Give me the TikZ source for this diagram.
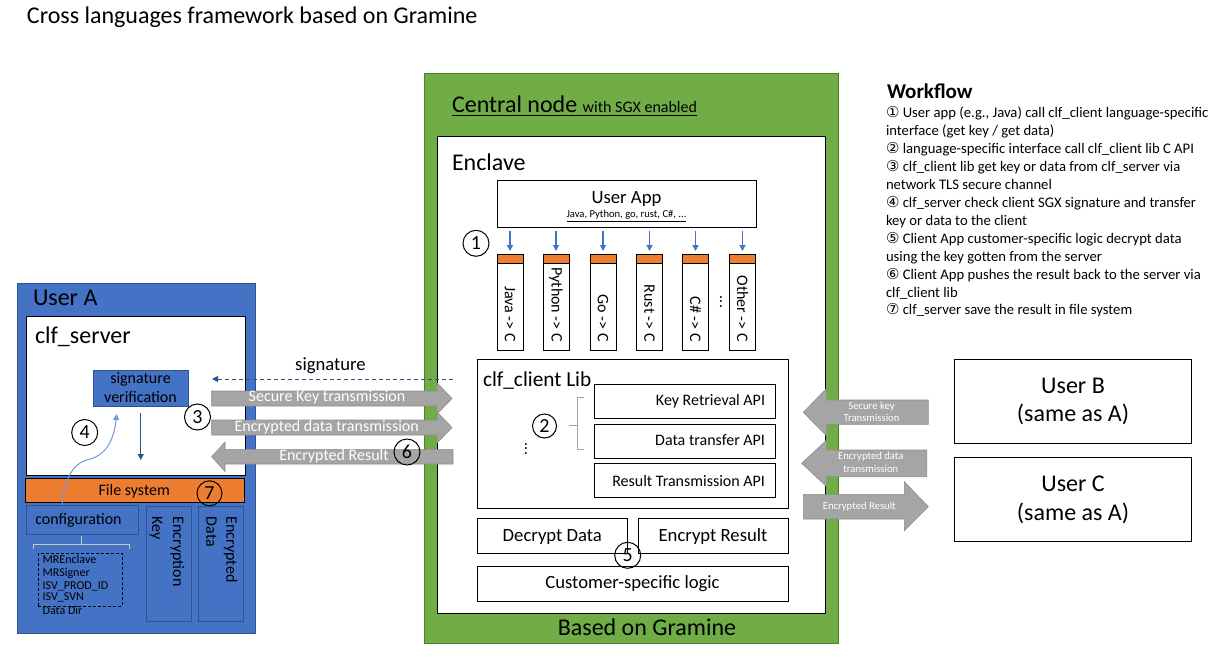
\documentclass[tikz,border=0pt]{standalone}
\usepackage{fontspec}
\setmainfont{Carlito}
\newfontfamily\dejavu{DejaVu Sans}
\usetikzlibrary{arrows.meta}
\definecolor{ggreen}{HTML}{70AD47}
\definecolor{ggreenD}{HTML}{507E32}
\definecolor{bblue}{HTML}{4472C4}
\definecolor{bblueD}{HTML}{2F528F}
\definecolor{oorange}{HTML}{ED7D31}
\definecolor{ggray}{HTML}{A5A5A5}
\definecolor{ggrayD}{HTML}{8C8C8C}
\definecolor{lblue}{HTML}{6A9BDC}
\definecolor{brgray}{HTML}{A5A5A5}
\definecolor{brlight}{HTML}{C8C8C8}
\newcommand\fsz[1]{\fontsize{#1}{#1}\selectfont}
\newcommand\cn{\dejavu\fontsize{15}{15}\selectfont}
\begin{document}
\begin{tikzpicture}[x=1pt,y=-1pt,
  every node/.style={inner sep=0pt,outer sep=0pt},
  box/.style={draw=black,line width=1pt,fill=white,anchor=north west},
  bbox/.style={draw=bblueD,line width=1pt,fill=bblue,anchor=north west},
  num/.style={circle,draw=black,line width=1pt,minimum size=26pt,font=\fsz{20}},
  blk/.style={fill=ggray,draw=ggrayD,line width=0.6pt},
  wt/.style={text=white,anchor=base},
  larr/.style={-{Triangle[length=6pt,width=6pt]},draw=bblue,line width=1.2pt},
  bt/.style={anchor=base},
]
\fill[white] (0,0) rectangle (1228,656);
\useasboundingbox (0,0) rectangle (1228,656);

% title
\node[anchor=base west,font=\fsz{24}] (title) at (27,23) {Cross languages framework based on Gramine};

% central node
\node[box,fill=ggreen,draw=ggreenD,minimum width=414,minimum height=570] (central) at (424,73) {};
\node[anchor=base west,font=\fsz{24}] (cn) at (452,112) {Central node {\fsz{16}with SGX enabled}};
\draw[line width=1pt] ([yshift=-3pt]cn.base west) -- ([yshift=-3pt]cn.base east);
\node[box,minimum width=388,minimum height=477] (enclave) at (437,136) {};
\node[anchor=base west,font=\fsz{24}] (enclt) at (452,170) {Enclave};
\node[box,minimum width=259,minimum height=47] (app) at (497,180) {};
\node[bt,font=\fsz{18.67}] (appt) at (626.5,203.3) {User App};
\node[bt,font=\fsz{10.6}] (appl) at (626.5,217.7) {\underline{Java, Python, go, rust, C\#, ...}};

\foreach \c/\n/\t in {510/j/Java, 556/p/Python, 603/g/Go, 649.5/r/Rust, 695.5/s/C\#, 742.5/o/Other}{
  \node[box,fill=oorange,minimum width=26,minimum height=9] (\n-top) at (\c-13,254) {};
  \node[box,minimum width=26,minimum height=87] (\n-box) at (\c-13,263) {};
  \node[rotate=-90,anchor=east,font=\fsz{16}] (\n-txt) at (\c,342) {\t\ -> C};
  \draw[larr] ([yshift=-4pt]app.south -| \n-top.north) -- ([yshift=3pt]\n-top.north);
}
\node[rotate=-90,font=\fsz{16}] (dots1) at (721,302) {...};

% clf_client lib
\node[box,minimum width=311,minimum height=149] (lib) at (477,359) {};
\node[anchor=base west,font=\fsz{21.3}] (libt) at (483,386) {clf\_client Lib};
\node[box,minimum width=181,minimum height=34] (api1) at (594,384) {};
\node[box,minimum width=181,minimum height=34] (api2) at (594,424) {};
\node[box,minimum width=181,minimum height=34] (api3) at (594,463) {};
\node[anchor=base east,font=\fsz{16}] (api1t) at (765,405) {Key Retrieval API};
\node[anchor=base east,font=\fsz{16}] (api2t) at (765,445.7) {Data transfer API};
\node[anchor=base east,font=\fsz{16}] (api3t) at (765,486) {Result Transmission API};
\draw[brgray,line width=1pt] (584,397) -- (577,397) -- (577,449) -- (584,449);
\draw[brgray,line width=1pt] (577,425) -- (569,425);
\node[rotate=-90,font=\fsz{16}] (dots2) at (526,449) {...};

% bottom of enclave
\node[box,minimum width=150.5,minimum height=35] (dec) at (477,518) {};
\node[box,minimum width=150,minimum height=35] (enc) at (638,518) {};
\node[box,minimum width=311,minimum height=35] (cust) at (477,566) {};
\node[bt,font=\fsz{18.67}] (dect) at (552.3,541.7) {Decrypt Data};
\node[bt,font=\fsz{18.67}] (enct) at (713,541.7) {Encrypt Result};
\node[bt,font=\fsz{18.67}] (custt) at (632.5,588.3) {Customer-specific logic};
\node[bt,font=\fsz{24}] (gram) at (647,635) {Based on Gramine};

% User A
\node[bbox,minimum width=238,minimum height=350] (usera) at (17,283) {};
\node[anchor=base west,font=\fsz{24}] (userat) at (33,305) {User A};
\node[box,minimum width=219.5,minimum height=159] (srv) at (26,316) {};
\node[anchor=base west,font=\fsz{24}] (srvt) at (35,343.3) {clf\_server};
\node[bbox,minimum width=95.5,minimum height=36.7] (sig) at (93,370) {};
\node[bt,font=\fsz{16}] (sigt1) at (140.5,383.3) {signature};
\node[bt,font=\fsz{16}] (sigt2) at (140.5,402.7) {verification};
\node[box,fill=oorange,minimum width=219,minimum height=24] (fs) at (25.3,478.3) {};
\node[bt,font=\fsz{16}] (fst) at (134.3,495) {File system};
\node[bbox,minimum width=112.3,minimum height=29.3] (cfg) at (26,505) {};
\node[bt,font=\fsz{16}] (cfgt) at (78.5,524.3) {configuration};
\draw[brlight,line width=1pt] (33.3,549.3) -- (33.3,544) -- (129.3,544) -- (129.3,549.3);
\draw[brlight,line width=1pt] (81.7,544) -- (81.7,535.7);
\node[draw=black,line width=1pt,dash pattern=on 3pt off 2pt,anchor=north west,minimum width=84,minimum height=52.7] (dash) at (38.3,553.3) {};
\foreach \t/\y in {MREnclave/563.3, MRSigner/576, ISV\_PROD\_ID/589.3, ISV\_SVN/600.7, Data Dir/614}
  \node[anchor=base west,font=\fsz{12}] at (42.7,\y) {\t};
\node[bbox,minimum width=45.7,minimum height=115] (ekey) at (146,506) {};
\node[bbox,minimum width=45,minimum height=115.7] (edata) at (198.3,506) {};
\node[rotate=-90,anchor=base west,font=\fsz{16}] (ek1) at (173,516.7) {Encryption};
\node[rotate=-90,anchor=base west,font=\fsz{16}] (ek2) at (152,516.7) {Key};
\node[rotate=-90,anchor=base west,font=\fsz{16}] (ed1) at (226.4,516.7) {Encrypted};
\node[rotate=-90,anchor=base west,font=\fsz{16}] (ed2) at (206.4,516.7) {Data};

% curves and arrows in User A
\draw[lblue,line width=1pt,-{Triangle[length=6pt,width=6pt]}] (62,505) .. controls (66,472) and (76,462) .. (90,459) .. controls (106,455) and (114,440) .. (116.7,414);
\draw[bblueD,line width=1.2pt,-{Triangle[length=6pt,width=6pt]}] ([yshift=-6pt]sig.south) -- ([yshift=15pt]sig.south |- srv.south);

% signature dashed arrow
\coordinate (sigS) at (453,379);
\coordinate (sigE) at (212,379);
\draw[bblueD,line width=1pt,dash pattern=on 4pt off 3pt,-{Triangle[length=6pt,width=6pt]}] (sigS) -- (sigE);
\node[bt,font=\fsz{18.67}] (sigl) at (330.5,370) {signature};

% block arrows left
\path[blk] (211.7,391) -- (437,391) -- (437,383) -- (452,398.5) -- (437,414) -- (437,406) -- (211.7,406) -- cycle;
\path[blk] (211.7,420) -- (437,420) -- (437,412) -- (452,427.5) -- (437,443) -- (437,435) -- (211.7,435) -- cycle;
\path[blk] (453,449.3) -- (225,449.3) -- (225,442) -- (211.7,456.7) -- (225,471.4) -- (225,464) -- (453,464) -- cycle;
\node[wt,font=\fsz{16}] (a1) at (327,401.7) {Secure Key transmission};
\node[wt,font=\fsz{16}] (a2) at (326.7,431) {Encrypted data transmission};
\node[wt,font=\fsz{16}] (a3) at (334,460.5) {Encrypted Result};

% block arrows right
\path[blk] (928.3,400) -- (826.7,400) -- (826.7,388.3) -- (803.3,412.3) -- (826.7,436) -- (826.7,424.3) -- (928.3,424.3) -- cycle;
\path[blk] (926.7,450) -- (826.7,450) -- (826.7,440) -- (801.7,463.3) -- (826.7,486.7) -- (826.7,476.7) -- (926.7,476.7) -- cycle;
\path[blk] (803.3,494.3) -- (904.3,494.3) -- (904.3,481.7) -- (928.3,506.7) -- (904.3,530.7) -- (904.3,519) -- (803.3,519) -- cycle;
\node[wt,font=\fsz{10.67}] (b1a) at (871.5,409) {Secure key};
\node[wt,font=\fsz{10.67}] (b1b) at (871.5,421) {Transmission};
\node[wt,font=\fsz{10.67}] (b2a) at (870.8,459) {Encrypted data};
\node[wt,font=\fsz{10.67}] (b2b) at (870.8,472.3) {transmission};
\node[wt,font=\fsz{10.67}] (b3) at (859.3,509.3) {Encrypted Result};

% users B, C
\node[box,minimum width=237.4,minimum height=84] (userb) at (954.3,359.3) {};
\node[box,minimum width=237.4,minimum height=84] (userc) at (954.3,457.3) {};
\node[bt,font=\fsz{24}] (ub1) at (1073,393.3) {User B};
\node[bt,font=\fsz{24}] (ub2) at (1073,421.7) {(same as A)};
\node[bt,font=\fsz{24}] (uc1) at (1073,491.7) {User C};
\node[bt,font=\fsz{24}] (uc2) at (1073,520) {(same as A)};

% numbered circles
\node[num] (n1) at (476,243.3) {1};
\node[num,minimum size=24pt] (n2) at (544.5,426) {2};
\node[num] (n3) at (197.5,417) {3};
\node[num] (n4) at (84.7,432.5) {4};
\node[num] (n5) at (627.7,555.3) {5};
\node[num] (n6) at (407,452) {6};
\node[num,minimum size=25pt] (n7) at (209.5,493.3) {7};

% workflow
\node[anchor=base west,font=\bfseries\fsz{21}] (wf) at (887,98.3) {Workflow};
\foreach \i/\t in {
 1/{{\cn ①} User app (e.g., Java) call clf\_client language-specific},
 2/{interface (get key / get data)},
 3/{{\cn ②} language-specific interface call clf\_client lib C API},
 4/{{\cn ③} clf\_client lib get key or data from clf\_server via},
 5/{network TLS secure channel},
 6/{{\cn ④} clf\_server check client SGX signature and transfer},
 7/{key or data to the client},
 8/{{\cn ⑤} Client App customer-specific logic decrypt data},
 9/{using the key gotten from the server},
 10/{{\cn ⑥} Client App pushes the result back to the server via},
 11/{clf\_client lib},
 12/{{\cn ⑦} clf\_server save the result in file system}}
  \node[anchor=base west,font=\fsz{14.67}] (wf\i) at (886,117.3+\i*17.97-17.97) {\t};
\end{tikzpicture}
\end{document}
